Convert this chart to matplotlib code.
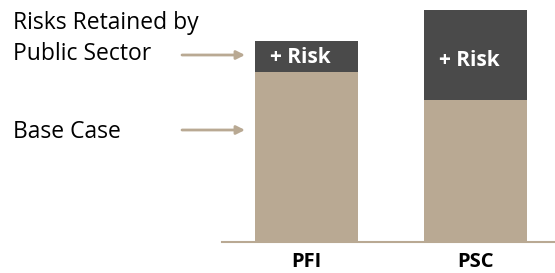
import matplotlib
matplotlib.use("Agg")
import matplotlib.pyplot as plt

categories = ["PFI", "PSC"]
base_case = [170, 142]
risk = [31, 90]
risk_label = "+ Risk"
legend_lines = ["Risks Retained by", "Public Sector", "Base Case"]

TAN = "#B9A993"
DARK = "#4A4A4A"

plt.rcParams['font.family'] = ['Open Sans', 'DejaVu Sans']

W, H = 555, 273
fig = plt.figure(figsize=(W/100, H/100), dpi=100)
ax = fig.add_axes([222/W, 1-242/H, 1-222/W, 242/H])

width = 0.61
x = list(range(len(categories)))
ax.bar(x, base_case, width=width, color=TAN)
ax.bar(x, risk, bottom=base_case, width=width, color=DARK)
label_drop = [22, 56]  # pixels below bar top (baseline)
for i in x:
    ax.annotate(risk_label, xy=(i - width/2, base_case[i] + risk[i]),
                xytext=(15*0.72, -label_drop[i]*0.72), textcoords="offset points",
                color="white", ha="left", va="baseline",
                fontsize=15, fontweight="bold")

ax.set_xlim(-0.5, 1.47)
ax.set_ylim(0, 242)
ax.set_xticks(x)
ax.set_xticklabels(categories, fontsize=14.5, fontweight="bold")
ax.tick_params(axis="x", length=0, pad=7.5)
ax.set_yticks([])
for s in ["top", "right", "left"]:
    ax.spines[s].set_visible(False)
ax.spines["bottom"].set_color(TAN)
ax.spines["bottom"].set_linewidth(1.5)

def fy(py):
    return 1 - py/H

for txt, base in zip(legend_lines, [29, 60, 138]):
    fig.text(13/W, fy(base), txt, fontsize=16.5, va="baseline", ha="left")

for py in [55, 130]:
    fig.add_artist(matplotlib.patches.FancyArrowPatch(
        (182/W, fy(py)), (245/W, fy(py)), transform=fig.transFigure,
        arrowstyle="-|>,head_length=5,head_width=2.5", color=TAN, lw=2,
        shrinkA=0, shrinkB=0, mutation_scale=1))

fig.savefig("out.png", dpi=100)
